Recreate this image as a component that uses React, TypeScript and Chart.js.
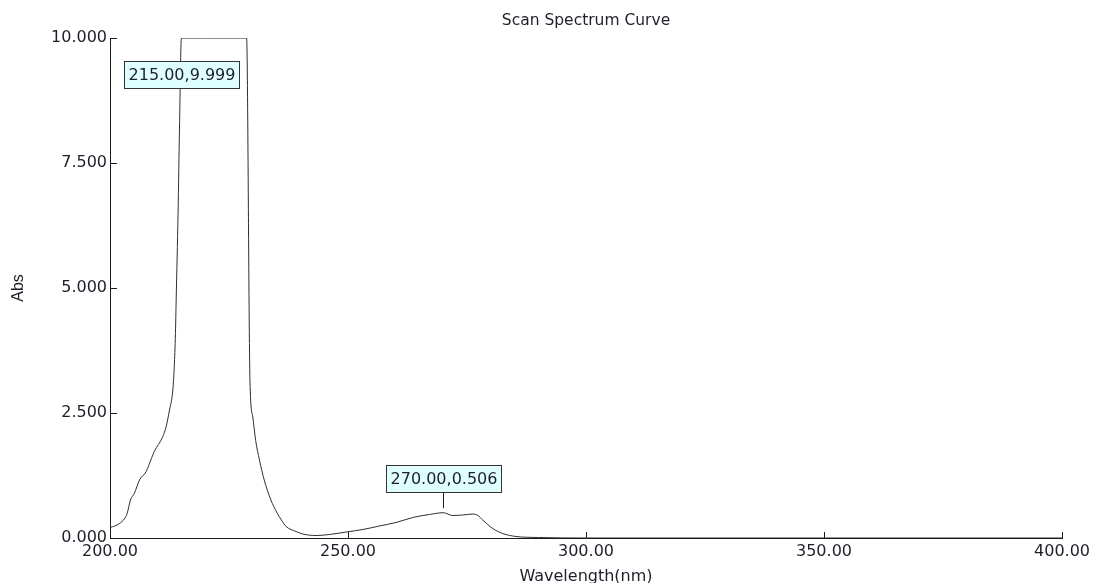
import React, { useEffect, useRef } from "react";
import { Chart, registerables } from "chart.js";
Chart.register(...registerables);

const chartTitle = "Scan Spectrum Curve";
const xTitle = "Wavelength(nm)";
const yTitle = "Abs";

const wavelengths = [
  200.0, 201.0, 202.0, 203.0, 203.6, 204.3, 205.1, 206.2, 207.6, 208.7, 209.3, 211.1, 211.8, 212.5, 213.2,
  213.5, 213.75, 213.9, 214.3, 214.6, 215.0, 220.0, 225.0, 228.7, 229.4, 230.0, 230.6, 231.4, 232.4, 233.8,
  235.0, 236.0, 237.0, 239.1, 240.5, 243.3, 246.1, 249.6, 253.1, 256.6, 260.1, 263.6, 267.1, 270.0, 272.0,
  274.1, 276.2, 277.3, 278.3, 280.4, 282.5, 285.3, 290.0, 300.0, 320.0, 350.0, 380.0, 400.0,
];
const absorbance = [
  0.21, 0.24, 0.29, 0.38, 0.49, 0.76, 0.89, 1.16, 1.33, 1.59, 1.73, 2.03, 2.23, 2.56, 2.96,
  3.43, 4.09, 4.76, 6.5, 8.2, 9.999, 9.999, 9.999, 9.999, 3.16, 2.42, 1.95, 1.56, 1.16, 0.76,
  0.52, 0.36, 0.23, 0.13, 0.08, 0.05, 0.07, 0.12, 0.17, 0.24, 0.31, 0.41, 0.47, 0.506, 0.45,
  0.46, 0.48, 0.45, 0.36, 0.19, 0.09, 0.03, 0.01, 0.0, 0.0, 0.0, 0.0, 0.0,
];

const xTicks = [200, 250, 300, 350, 400];
const yTicks = [0, 2.5, 5, 7.5, 10];

const peakX = [215, 270];
const peakY = [9.999, 0.506];

const FONT = '"DejaVu Sans", Verdana, sans-serif';
const TEXT = "#1f1f2a";

const overlay = {
  id: "overlay",
  afterDatasetsDraw(chart: any) {
    const { ctx, chartArea, scales } = chart;
    const x = scales.x;
    const y = scales.y;
    ctx.save();
    // inward tick marks
    ctx.strokeStyle = "#1a1a1a";
    ctx.lineWidth = 1;
    ctx.beginPath();
    y.ticks.forEach((t: any) => {
      const py = Math.round(y.getPixelForValue(t.value)) + 0.5;
      ctx.moveTo(chartArea.left, py);
      ctx.lineTo(chartArea.left + 7, py);
    });
    x.ticks.forEach((t: any) => {
      const px = Math.round(x.getPixelForValue(t.value)) + 0.5;
      ctx.moveTo(px, chartArea.bottom);
      ctx.lineTo(px, chartArea.bottom - 6);
    });
    ctx.stroke();

    // chart title centred on plot area
    ctx.font = "15.5px " + FONT;
    ctx.fillStyle = TEXT;
    ctx.textAlign = "center";
    ctx.textBaseline = "middle";
    ctx.fillText(chartTitle, (chartArea.left + chartArea.right) / 2, 21);

    // peak annotations
    ctx.font = "16px " + FONT;
    peakX.forEach((wx, i) => {
      const wy = peakY[i];
      const text = wx.toFixed(2) + "," + wy.toFixed(3);
      const px = x.getPixelForValue(wx);
      const py = y.getPixelForValue(wy);
      const w = Math.round(ctx.measureText(text).width + 8);
      const h = 27;
      let top = py - 21 - h;
      let leader = true;
      if (top < chartArea.top) {
        top = py + 23;
        leader = false;
      }
      const left = Math.round(px - w / 2) + 0.5;
      top = Math.round(top) + 0.5;
      if (leader) {
        ctx.beginPath();
        ctx.strokeStyle = "#1a1a1a";
        ctx.moveTo(Math.round(px) + 0.5, top + h);
        ctx.lineTo(Math.round(px) + 0.5, py - 4.5);
        ctx.stroke();
      }
      ctx.fillStyle = "#dfffff";
      ctx.fillRect(left, top, w, h);
      ctx.strokeStyle = "#333333";
      ctx.strokeRect(left, top, w, h);
      ctx.fillStyle = TEXT;
      ctx.textAlign = "center";
      ctx.textBaseline = "middle";
      ctx.fillText(text, left + w / 2, top + h / 2 + 1);
    });
    ctx.restore();
  },
};

export default function App() {
  const ref = useRef<HTMLCanvasElement | null>(null);
  useEffect(() => {
    document.body.style.overflow = "hidden";
    const canvas = ref.current;
    if (!canvas) return;
    const points = wavelengths.map((w, i) => ({ x: w, y: absorbance[i] }));
    const chart = new Chart(canvas, {
      type: "line",
      data: {
        datasets: [
          {
            data: points,
            borderColor: "#2e2e2e",
            borderWidth: 1,
            pointRadius: 0,
            fill: false,
            cubicInterpolationMode: "monotone",
          },
        ],
      },
      options: {
        animation: false,
        responsive: false,
        devicePixelRatio: 1,
        layout: { padding: { top: 38, right: 31, left: 0, bottom: 0 } },
        plugins: { legend: { display: false }, tooltip: { enabled: false }, title: { display: false } },
        scales: {
          x: {
            type: "linear",
            min: 200,
            max: 400,
            afterBuildTicks: (s: any) => {
              s.ticks = xTicks.map((v) => ({ value: v }));
            },
            afterFit: (s: any) => {
              s.height = 62;
            },
            grid: { display: false, drawTicks: false },
            border: { display: true, color: "#1a1a1a", width: 1 },
            ticks: {
              padding: 4,
              maxRotation: 0,
              autoSkip: false,
              color: TEXT,
              font: { family: FONT, size: 16 },
              callback: (v: any) => Number(v).toFixed(2),
            },
            title: {
              display: true,
              text: xTitle,
              color: TEXT,
              font: { family: FONT, size: 16 },
              padding: { top: 0, bottom: 14 },
            },
          },
          y: {
            type: "linear",
            min: 0,
            max: 10,
            afterBuildTicks: (s: any) => {
              s.ticks = yTicks.map((v) => ({ value: v }));
            },
            afterFit: (s: any) => {
              s.width = 110;
            },
            grid: { display: false, drawTicks: false },
            border: { display: true, color: "#1a1a1a", width: 1 },
            ticks: {
              padding: 3,
              autoSkip: false,
              color: TEXT,
              font: { family: FONT, size: 16 },
              callback: (v: any) => Number(v).toFixed(3),
            },
            title: {
              display: true,
              text: yTitle,
              color: TEXT,
              font: { family: '"Liberation Sans", Arial, sans-serif', size: 16 },
              padding: { top: 9, bottom: 0 },
            },
          },
        },
      },
      plugins: [overlay],
    } as any);
    return () => chart.destroy();
  }, []);
  return (
    <div style={{ position: "fixed", left: 0, top: 0, width: 1094, height: 600, background: "#fff" }}>
      <canvas ref={ref} width={1094} height={600} style={{ width: 1094, height: 600, display: "block" }} />
    </div>
  );
}
